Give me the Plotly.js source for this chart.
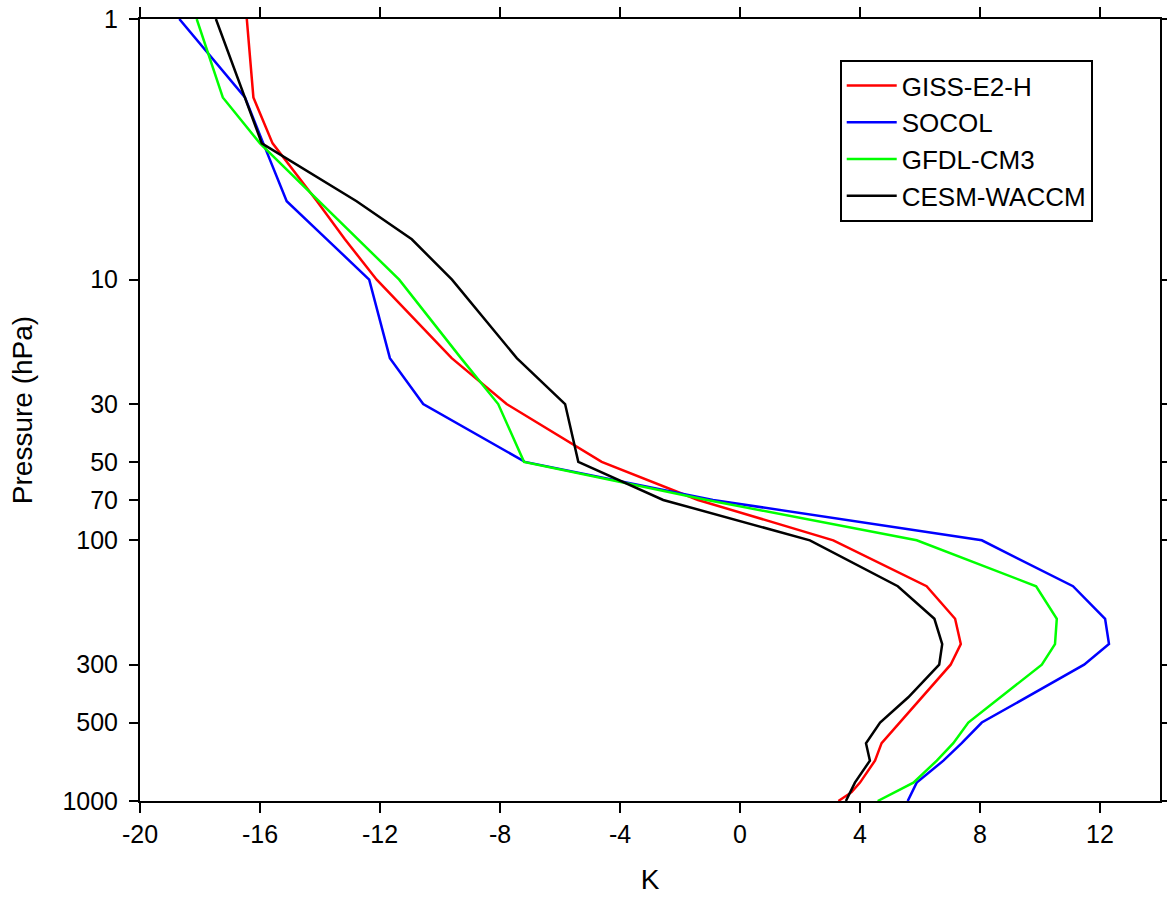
<!DOCTYPE html>
<html>
<head>
<meta charset="utf-8">
<script src="https://cdn.plot.ly/plotly-3.0.1.min.js"></script>
<style>
html,body{margin:0;padding:0;background:#fff;}
#chart{width:1167px;height:898px;}
</style>
</head>
<body>
<div id="chart"></div>
<script>
// Pressure levels (hPa)
const pressure = [1, 2, 3, 5, 7, 10, 20, 30, 50, 70, 100, 150, 200, 250, 300, 400, 500, 600, 700, 850, 925, 1000];

// Temperature differences (K) per model
const giss  = [-16.44, -16.22, -15.58, -14.1, -13.17, -12.11, -9.61, -7.78, -4.61, -1.4, 3.11, 6.22, 7.17, 7.36, 7.02, 6.07, 5.33, 4.72, 4.5, 4.0, 3.72, 3.28];
const socol = [-18.69, -16.5, -15.89, -15.11, -13.77, -12.36, -11.67, -10.56, -7.17, -0.9, 8.06, 11.1, 12.17, 12.3, 11.47, 9.56, 8.06, 7.39, 6.78, 5.89, 5.72, 5.59];
const gfdl  = [-18.11, -17.24, -16.0, -14.03, -12.71, -11.36, -9.3, -8.06, -7.2, -1.1, 5.89, 9.87, 10.56, 10.5, 10.06, 8.67, 7.61, 7.11, 6.56, 5.78, 5.17, 4.59];
const cesm  = [-17.47, -16.5, -15.94, -12.78, -10.94, -9.6, -7.44, -5.83, -5.39, -2.56, 2.33, 5.26, 6.48, 6.74, 6.64, 5.61, 4.67, 4.2, 4.33, 3.83, 3.67, 3.53];

const seriesNames = ["GISS-E2-H", "SOCOL", "GFDL-CM3", "CESM-WACCM"];
const seriesColors = ["#ff0000", "#0000ff", "#00ff00", "#000000"];
const seriesData = [giss, socol, gfdl, cesm];

const xTicks = [-20, -16, -12, -8, -4, 0, 4, 8, 12];
const yTicks = [1, 10, 30, 50, 70, 100, 300, 500, 1000];

const traces = seriesData.map((vals, i) => ({
  type: "scatter",
  mode: "lines",
  x: vals,
  y: pressure,
  name: seriesNames[i],
  line: {color: seriesColors[i], width: 2.5}
}));

const fam = "Liberation Sans, Arial, sans-serif";
const tickFont = {family: fam, size: 25, color: "#000"};
const titleFont = {family: fam, size: 28, color: "#000"};

const layout = {
  width: 1167,
  height: 898,
  margin: {l: 140, r: 7, t: 19, b: 97},
  paper_bgcolor: "#fff",
  plot_bgcolor: "#fff",
  font: tickFont,
  showlegend: true,
  legend: {
    x: 0.686, y: 0.9476, xanchor: "left", yanchor: "top",
    bordercolor: "#000", borderwidth: 2, bgcolor: "#fff",
    font: {family: fam, size: 26, color: "#000"},
    itemwidth: 50,
    tracegroupgap: 0
  },
  xaxis: {
    range: [-20, 14],
    tickvals: xTicks,
    ticktext: xTicks.map(String),
    ticks: "outside", ticklen: 10, tickwidth: 2, tickcolor: "#000",
    showline: true, linewidth: 2, linecolor: "#000", mirror: "ticks",
    showgrid: false, zeroline: false,
    tickfont: tickFont,
    title: {text: "K", font: titleFont, standoff: 22}
  },
  yaxis: {
    type: "log",
    range: [3, 0],
    tickvals: yTicks,
    ticktext: yTicks.map(String),
    ticks: "outside", ticklen: 9, tickwidth: 2, tickcolor: "#000",
    ticklabelstandoff: 6,
    showline: true, linewidth: 2, linecolor: "#000", mirror: "ticks",
    showgrid: false, zeroline: false,
    tickfont: tickFont,
    title: {text: "Pressure (hPa)", font: titleFont, standoff: 22}
  }
};

Plotly.newPlot("chart", traces, layout, {displayModeBar: false, staticPlot: true});
</script>
</body>
</html>
